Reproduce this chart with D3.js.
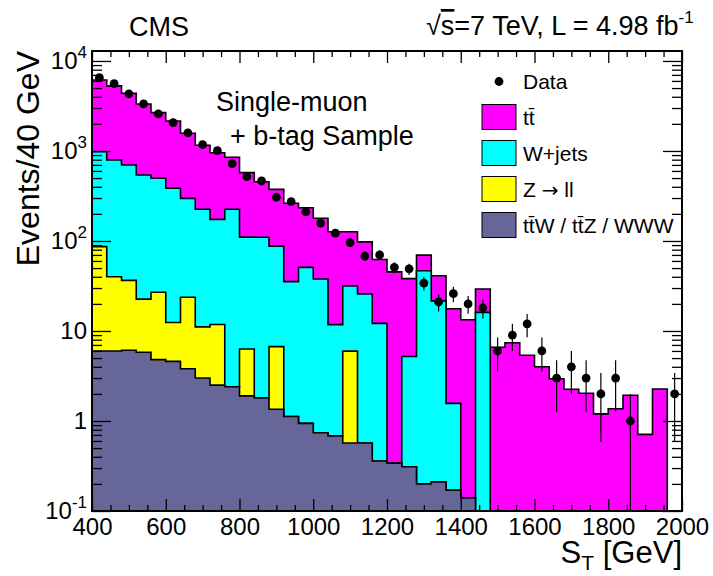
<!doctype html>
<html>
<head>
<meta charset="utf-8">
<title>CMS S_T single-muon + b-tag</title>
<script src="https://d3js.org/d3.v7.min.js"></script>
<style>
  body { margin: 0; background: #fff; }
  text { font-family: "Liberation Sans", Arial, sans-serif; fill: #000; }
</style>
</head>
<body>
<svg width="713" height="576"></svg>
<script>
// lower edge of each 40 GeV bin
var binLow = [400, 440, 480, 520, 560, 600, 640, 680, 720, 760,
              800, 840, 880, 920, 960, 1000, 1040, 1080, 1120, 1160,
              1200, 1240, 1280, 1320, 1360, 1400, 1440, 1480, 1520, 1560,
              1600, 1640, 1680, 1720, 1760, 1800, 1840, 1880, 1920, 1960];

// events per bin for each process
var ttbar = [5168, 4486, 3676, 2789, 2168, 1770, 1274, 932, 783, 626,
             464, 346, 287, 227, 183, 141, 115, 95, 72, 50,
             45, 33, 23, 19.4, 16.1, 13.2, 13.2, 6.6, 7.4, 5.37,
             4.0, 2.95, 2.25, 2.03, 1.2, 1.37, 1.93, 0.71, 2.27, 0];
var wjets = [895, 754, 662, 518, 470, 373, 274, 214, 162, 223,
             104, 108, 81, 34.2, 50, 37, 11.1, 25.6, 25.2, 11.8,
             0, 4.9, 46.5, 21.4, 1.4, 0, 16.0, 0, 0, 0,
             0, 0, 0, 0, 0, 0, 0, 0, 0, 0];
var zll =   [80.5, 34.1, 30.4, 16.8, 22.1, 7.8, 19.9, 8.1, 9.3, 0,
             4.4, 0, 5.35, 0, 0, 0, 0, 5.4, 0, 0,
             0, 0, 0, 0, 0, 0, 0, 0, 0, 0,
             0, 0, 0, 0, 0, 0, 0, 0, 0, 0];
var ttv =   [6.0, 6.0, 6.1, 5.8, 4.8, 4.6, 3.8, 3.0, 2.5, 2.4,
             1.9, 1.8, 1.35, 1.12, 0.94, 0.74, 0.68, 0.57, 0.57, 0.36,
             0.34, 0.31, 0.2, 0.21, 0.17, 0.14, 0.1, 0, 0, 0,
             0, 0, 0, 0, 0, 0, 0, 0, 0, 0];
var dataN = [6520, 5600, 4300, 3330, 2580, 2065, 1585, 1175, 1008, 723,
             518, 464, 306, 273, 210, 158, 122, 96, 68, 70,
             51, 49, 34, 21, 26, 20, 18, 6, 9, 12,
             6, 3, 4, 3, 2, 3, 1, 0, 0, 2];

var xMajor = [400, 600, 800, 1000, 1200, 1400, 1600, 1800, 2000];
var yMajor = [0.1, 1, 10, 100, 1000, 10000];
var yLabels = [["10", "-1"], ["1", ""], ["10", ""], ["10", "2"], ["10", "3"], ["10", "4"]];

var svg = d3.select("svg");
var fLeft = 92, fRight = 682, fTop = 51, fBottom = 511;

var xScale = d3.scaleLinear().domain([400, 2000]).range([fLeft, fRight]);
var yScale = d3.scaleLog().domain([0.1, 12900]).range([fBottom, fTop]).clamp(true);

// cumulative stack: ttV at the bottom, then Z, W+jets, ttbar on top
var cumD = ttv.slice();
var cumZ = cumD.map(function(v, i) { return v + zll[i]; });
var cumW = cumZ.map(function(v, i) { return v + wjets[i]; });
var cumT = cumW.map(function(v, i) { return v + ttbar[i]; });

function stepPath(vals) {
    var pts = [[xScale(binLow[0]), fBottom]];
    vals.forEach(function(v, i) {
        var y = yScale(Math.max(v, 0.01));
        pts.push([xScale(binLow[i]), y]);
        pts.push([xScale(binLow[i] + 40), y]);
    });
    pts.push([xScale(binLow[binLow.length - 1] + 40), fBottom]);
    return d3.line()(pts) + "Z";
}

var layers = [
    {vals: cumT, color: "#ff00ff"},
    {vals: cumW, color: "#00ffff"},
    {vals: cumZ, color: "#ffff00"},
    {vals: cumD, color: "#666699"}
];

var plot = svg.append("g");
plot.selectAll("path.layer")
    .data(layers)
    .enter().append("path")
    .attr("class", "layer")
    .attr("d", function(d) { return stepPath(d.vals); })
    .attr("fill", function(d) { return d.color; })
    .attr("stroke", "black")
    .attr("stroke-width", 1.6)
    .attr("stroke-linejoin", "miter");

// data points with sqrt(N) error bars
var pts = dataN.map(function(n, i) { return {x: binLow[i] + 20, n: n}; })
               .filter(function(d) { return d.n > 0; });

plot.selectAll("line.err")
    .data(pts)
    .enter().append("line")
    .attr("class", "err")
    .attr("x1", function(d) { return xScale(d.x); })
    .attr("x2", function(d) { return xScale(d.x); })
    .attr("y1", function(d) { return yScale(Math.max(d.n - Math.sqrt(d.n), 0.01)); })
    .attr("y2", function(d) { return yScale(d.n + Math.sqrt(d.n)); })
    .attr("stroke", "black")
    .attr("stroke-width", 1.2);

plot.selectAll("circle.pt")
    .data(pts)
    .enter().append("circle")
    .attr("class", "pt")
    .attr("cx", function(d) { return xScale(d.x); })
    .attr("cy", function(d) { return yScale(d.n); })
    .attr("r", 4.4)
    .attr("fill", "black");

// axes, ROOT style: ticks pointing into the frame
var xMinor = xScale.ticks(32).filter(function(v) { return xMajor.indexOf(v) < 0; });
var yMinor = yScale.ticks().filter(function(v) { return yMajor.indexOf(v) < 0; });

function styleAxis(g) {
    g.select(".domain").remove();
    g.selectAll(".tick line").attr("stroke", "black").attr("stroke-width", 1.3);
}

var xb = svg.append("g").attr("transform", "translate(0," + fBottom + ")")
    .call(d3.axisBottom(xScale).tickValues(xMajor).tickSize(-12).tickPadding(7).tickFormat(d3.format("d")));
styleAxis(xb);
xb.selectAll(".tick text").style("font-size", "24px").attr("fill", "black");

svg.append("g").attr("transform", "translate(0," + fBottom + ")")
    .call(d3.axisBottom(xScale).tickValues(xMinor).tickSize(-6).tickFormat("")).call(styleAxis);
svg.append("g").attr("transform", "translate(0," + fTop + ")")
    .call(d3.axisTop(xScale).tickValues(xMajor).tickSize(-12).tickFormat("")).call(styleAxis);
svg.append("g").attr("transform", "translate(0," + fTop + ")")
    .call(d3.axisTop(xScale).tickValues(xMinor).tickSize(-6).tickFormat("")).call(styleAxis);

svg.append("g").attr("transform", "translate(" + fLeft + ",0)")
    .call(d3.axisLeft(yScale).tickValues(yMajor).tickSize(-19).tickFormat("")).call(styleAxis);
svg.append("g").attr("transform", "translate(" + fLeft + ",0)")
    .call(d3.axisLeft(yScale).tickValues(yMinor).tickSize(-10).tickFormat("")).call(styleAxis);
svg.append("g").attr("transform", "translate(" + fRight + ",0)")
    .call(d3.axisRight(yScale).tickValues(yMajor).tickSize(-19).tickFormat("")).call(styleAxis);
svg.append("g").attr("transform", "translate(" + fRight + ",0)")
    .call(d3.axisRight(yScale).tickValues(yMinor).tickSize(-10).tickFormat("")).call(styleAxis);

// y tick labels with exponents
yMajor.forEach(function(v, i) {
    var t = svg.append("text")
        .attr("x", 87)
        .attr("y", yScale(v) + 8)
        .attr("text-anchor", "end")
        .style("font-size", "24px")
        .text(yLabels[i][0]);
    if (yLabels[i][1]) {
        t.append("tspan").attr("dy", -11).style("font-size", "17px").text(yLabels[i][1]);
    }
});

svg.append("rect")
    .attr("x", fLeft).attr("y", fTop)
    .attr("width", fRight - fLeft).attr("height", fBottom - fTop)
    .attr("fill", "none").attr("stroke", "black").attr("stroke-width", 2);

// titles
svg.append("text")
    .attr("transform", "translate(39," + fTop + ") rotate(-90)")
    .attr("text-anchor", "end")
    .style("font-size", "32px")
    .text("Events/40 GeV");

var xt = svg.append("text")
    .attr("x", fRight).attr("y", 563)
    .attr("text-anchor", "end")
    .style("font-size", "31px")
    .text("S");
xt.append("tspan").attr("dy", 7).style("font-size", "21px").text("T");
xt.append("tspan").attr("dy", -7).text(" [GeV]");

svg.append("text")
    .attr("x", 159).attr("y", 36)
    .attr("text-anchor", "middle")
    .style("font-size", "27px")
    .text("CMS");

var lumi = svg.append("text")
    .attr("x", 426).attr("y", 35)
    .style("font-size", "27px");
lumi.append("tspan").text("\u221A");
lumi.append("tspan").style("text-decoration", "overline").text("s");
lumi.append("tspan").text("=7 TeV, L = 4.98 fb");
lumi.append("tspan").attr("dy", -12).style("font-size", "17px").text("-1");

svg.append("text").attr("x", 216).attr("y", 111).style("font-size", "27px").text("Single-muon");
svg.append("text").attr("x", 230).attr("y", 145).style("font-size", "27px").text("+ b-tag Sample");

// legend
var legend = [
    {label: ["t\u0074\u0304"], color: "#ff00ff"},
    {label: ["W+jets"], color: "#00ffff"},
    {label: ["Z ", "\u2192", " ll"], color: "#ffff00"},
    {label: ["t\u0074\u0304W / t\u0074\u0304Z / WWW"], color: "#666699"}
];
var lg = svg.append("g");
lg.append("circle").attr("cx", 499).attr("cy", 81.5).attr("r", 4.4).attr("fill", "black");
lg.append("text").attr("x", 523).attr("y", 89).style("font-size", "21px").text("Data");

var rows = lg.selectAll("g.row")
    .data(legend)
    .enter().append("g")
    .attr("class", "row")
    .attr("transform", function(d, i) { return "translate(0," + (117 + i * 36) + ")"; });
rows.append("rect")
    .attr("x", 482).attr("y", -12.5)
    .attr("width", 34).attr("height", 25)
    .attr("fill", function(d) { return d.color; })
    .attr("stroke", "black").attr("stroke-width", 1);
rows.append("text")
    .attr("x", 523).attr("y", 8)
    .style("font-size", "21px")
    .each(function(d) {
        var t = d3.select(this);
        d.label.forEach(function(part) {
            var s = t.append("tspan").text(part);
            if (part === "\u2192") s.style("font-family", "DejaVu Sans").style("font-size", "20px");
        });
    });
</script>
</body>
</html>
